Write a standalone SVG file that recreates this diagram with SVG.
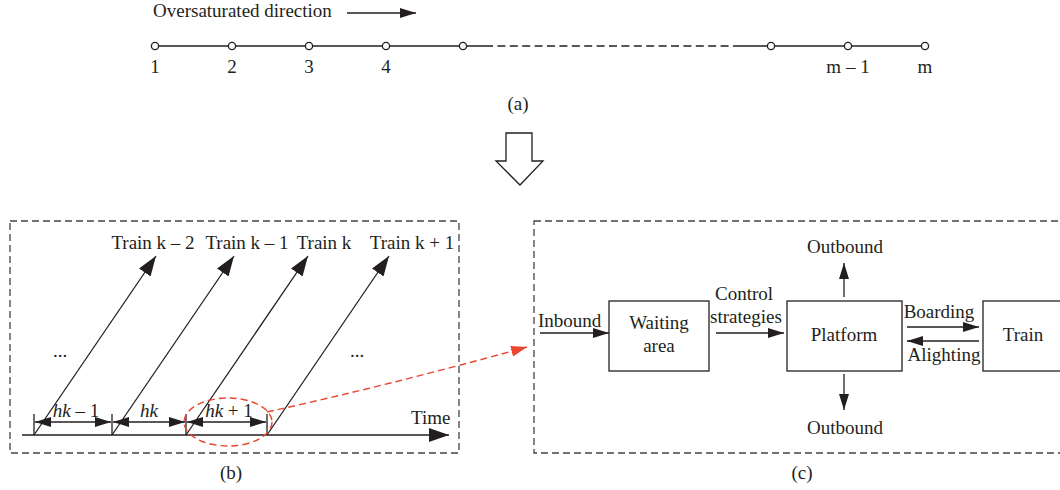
<svg xmlns="http://www.w3.org/2000/svg" width="1060" height="490" viewBox="0 0 1060 490">
<defs>
<style>
text{font-family:"Liberation Serif","Times New Roman",serif;font-size:19px;fill:#231f20}
.m{text-anchor:middle}
.ln{stroke:#231f20;stroke-width:1.3;fill:none}
.dash{stroke:#444;stroke-width:1.3;fill:none;stroke-dasharray:7 4}
.red{stroke:#e8462e;stroke-width:1.4;fill:none;stroke-dasharray:7 4}
.node{fill:#fff;stroke:#231f20;stroke-width:1.3}
.st{fill:#fff;stroke:#231f20;stroke-width:1.3}
</style>
<marker id="big" viewBox="0 0 20 14" refX="20" refY="7" markerWidth="20" markerHeight="14" markerUnits="userSpaceOnUse" orient="auto"><path d="M0,0 L20,7 L0,14 z" fill="#231f20"/></marker>
<marker id="ah" viewBox="0 0 16 10" refX="16" refY="5" markerWidth="16" markerHeight="10" markerUnits="userSpaceOnUse" orient="auto"><path d="M0,0 L16,5 L0,10 z" fill="#231f20"/></marker>
<marker id="ahs" viewBox="0 0 16 10" refX="0" refY="5" markerWidth="16" markerHeight="10" markerUnits="userSpaceOnUse" orient="auto"><path d="M16,0 L0,5 L16,10 z" fill="#231f20"/></marker>
<marker id="redh" viewBox="0 0 16 11" refX="16" refY="5.5" markerWidth="16" markerHeight="11" markerUnits="userSpaceOnUse" orient="auto"><path d="M0,0 L16,5.5 L0,11 z" fill="#e8462e"/></marker>
</defs>

<g id="part-a">
<text x="153" y="17">Oversaturated direction</text>
<line class="ln" x1="347" y1="13" x2="416" y2="13" marker-end="url(#ah)"/>
<line class="ln" x1="155" y1="46" x2="485" y2="46"/>
<line class="ln" x1="485" y1="46" x2="733" y2="46" stroke-dasharray="8 4.4"/>
<line class="ln" x1="733" y1="46" x2="925" y2="46"/>
<circle class="st" cx="155" cy="46" r="3.6"/>
<circle class="st" cx="232" cy="46" r="3.6"/>
<circle class="st" cx="309" cy="46" r="3.6"/>
<circle class="st" cx="386" cy="46" r="3.6"/>
<circle class="st" cx="463" cy="46" r="3.6"/>
<circle class="st" cx="771" cy="46" r="3.6"/>
<circle class="st" cx="848" cy="46" r="3.6"/>
<circle class="st" cx="925" cy="46" r="3.6"/>
<text class="m" x="155" y="73">1</text>
<text class="m" x="232" y="73">2</text>
<text class="m" x="309" y="73">3</text>
<text class="m" x="386" y="73">4</text>
<text class="m" x="848" y="73">m – 1</text>
<text class="m" x="925" y="73">m</text>
<text class="m" x="518" y="110">(a)</text>
</g>

<g id="down-arrow">
<polygon class="st" points="506,133 532,133 532,161 543,161 520,185 496,161 506,161"/>
</g>

<g id="part-b">
<rect class="dash" x="10" y="221" width="449" height="232"/>
<text class="m" x="153" y="249">Train k – 2</text>
<text class="m" x="247" y="249">Train k – 1</text>
<text class="m" x="324" y="249">Train k</text>
<text class="m" x="412" y="249">Train k + 1</text>
<text class="m" x="60" y="357" font-size="15">...</text>
<text class="m" x="357" y="357" font-size="15">...</text>
<text x="411" y="424">Time</text>
<text class="m" x="76" y="417"><tspan font-style="italic">hk</tspan> – 1</text>
<text class="m" x="149" y="417" font-style="italic">hk</text>
<text class="m" x="229" y="417"><tspan font-style="italic">hk</tspan> + 1</text>
<text class="m" x="231" y="479">(b)</text>
</g>

<g id="part-c">
<rect class="dash" x="534" y="221" width="540" height="232"/>
<g id="waiting"><rect class="node" x="609" y="301" width="100" height="70"/><text class="m" x="659" y="329">Waiting</text><text class="m" x="659" y="352">area</text></g>
<g id="platform"><rect class="node" x="787" y="301" width="115" height="70"/><text class="m" x="844" y="341">Platform</text></g>
<g id="train"><rect class="node" x="983" y="301" width="90" height="70"/><text class="m" x="1023" y="341">Train</text></g>
<text x="538" y="327">Inbound</text>
<text class="m" x="744" y="300">Control</text>
<text class="m" x="746" y="323">strategies</text>
<text class="m" x="845" y="253">Outbound</text>
<text class="m" x="845" y="434">Outbound</text>
<text class="m" x="939" y="318">Boarding</text>
<text class="m" x="944" y="361">Alighting</text>
<text class="m" x="802" y="479">(c)</text>
</g>

<g id="connectors">
<line class="ln" x1="22" y1="435" x2="449" y2="435" marker-end="url(#big)"/>
<line class="ln" x1="34" y1="435" x2="156" y2="256" marker-end="url(#big)"/>
<line class="ln" x1="112" y1="435" x2="234" y2="256" marker-end="url(#big)"/>
<line class="ln" x1="186" y1="435" x2="308" y2="256" marker-end="url(#big)"/>
<line class="ln" x1="267" y1="435" x2="389" y2="256" marker-end="url(#big)"/>
<line class="ln" x1="34" y1="414" x2="34" y2="435"/>
<line class="ln" x1="112" y1="414" x2="112" y2="435"/>
<line class="ln" x1="186" y1="414" x2="186" y2="435"/>
<line class="ln" x1="267" y1="414" x2="267" y2="435"/>
<line class="ln" x1="35" y1="422" x2="111" y2="422" marker-start="url(#ahs)" marker-end="url(#ah)"/>
<line class="ln" x1="113" y1="422" x2="185" y2="422" marker-start="url(#ahs)" marker-end="url(#ah)"/>
<line class="ln" x1="187" y1="422" x2="266" y2="422" marker-start="url(#ahs)" marker-end="url(#ah)"/>
<ellipse class="red" cx="228" cy="422" rx="44" ry="24"/>
<path class="red" d="M267,412 Q390,385 527,347" marker-end="url(#redh)"/>
<line class="ln" x1="540" y1="333" x2="609" y2="333" marker-end="url(#ah)"/>
<line class="ln" x1="716" y1="333" x2="784" y2="333" marker-end="url(#ah)"/>
<line class="ln" x1="844" y1="297" x2="844" y2="263" marker-end="url(#ah)"/>
<line class="ln" x1="844" y1="374" x2="844" y2="410" marker-end="url(#ah)"/>
<line class="ln" x1="907" y1="327" x2="979" y2="327" marker-end="url(#ah)"/>
<line class="ln" x1="979" y1="341" x2="907" y2="341" marker-end="url(#ah)"/>
</g>
</svg>
